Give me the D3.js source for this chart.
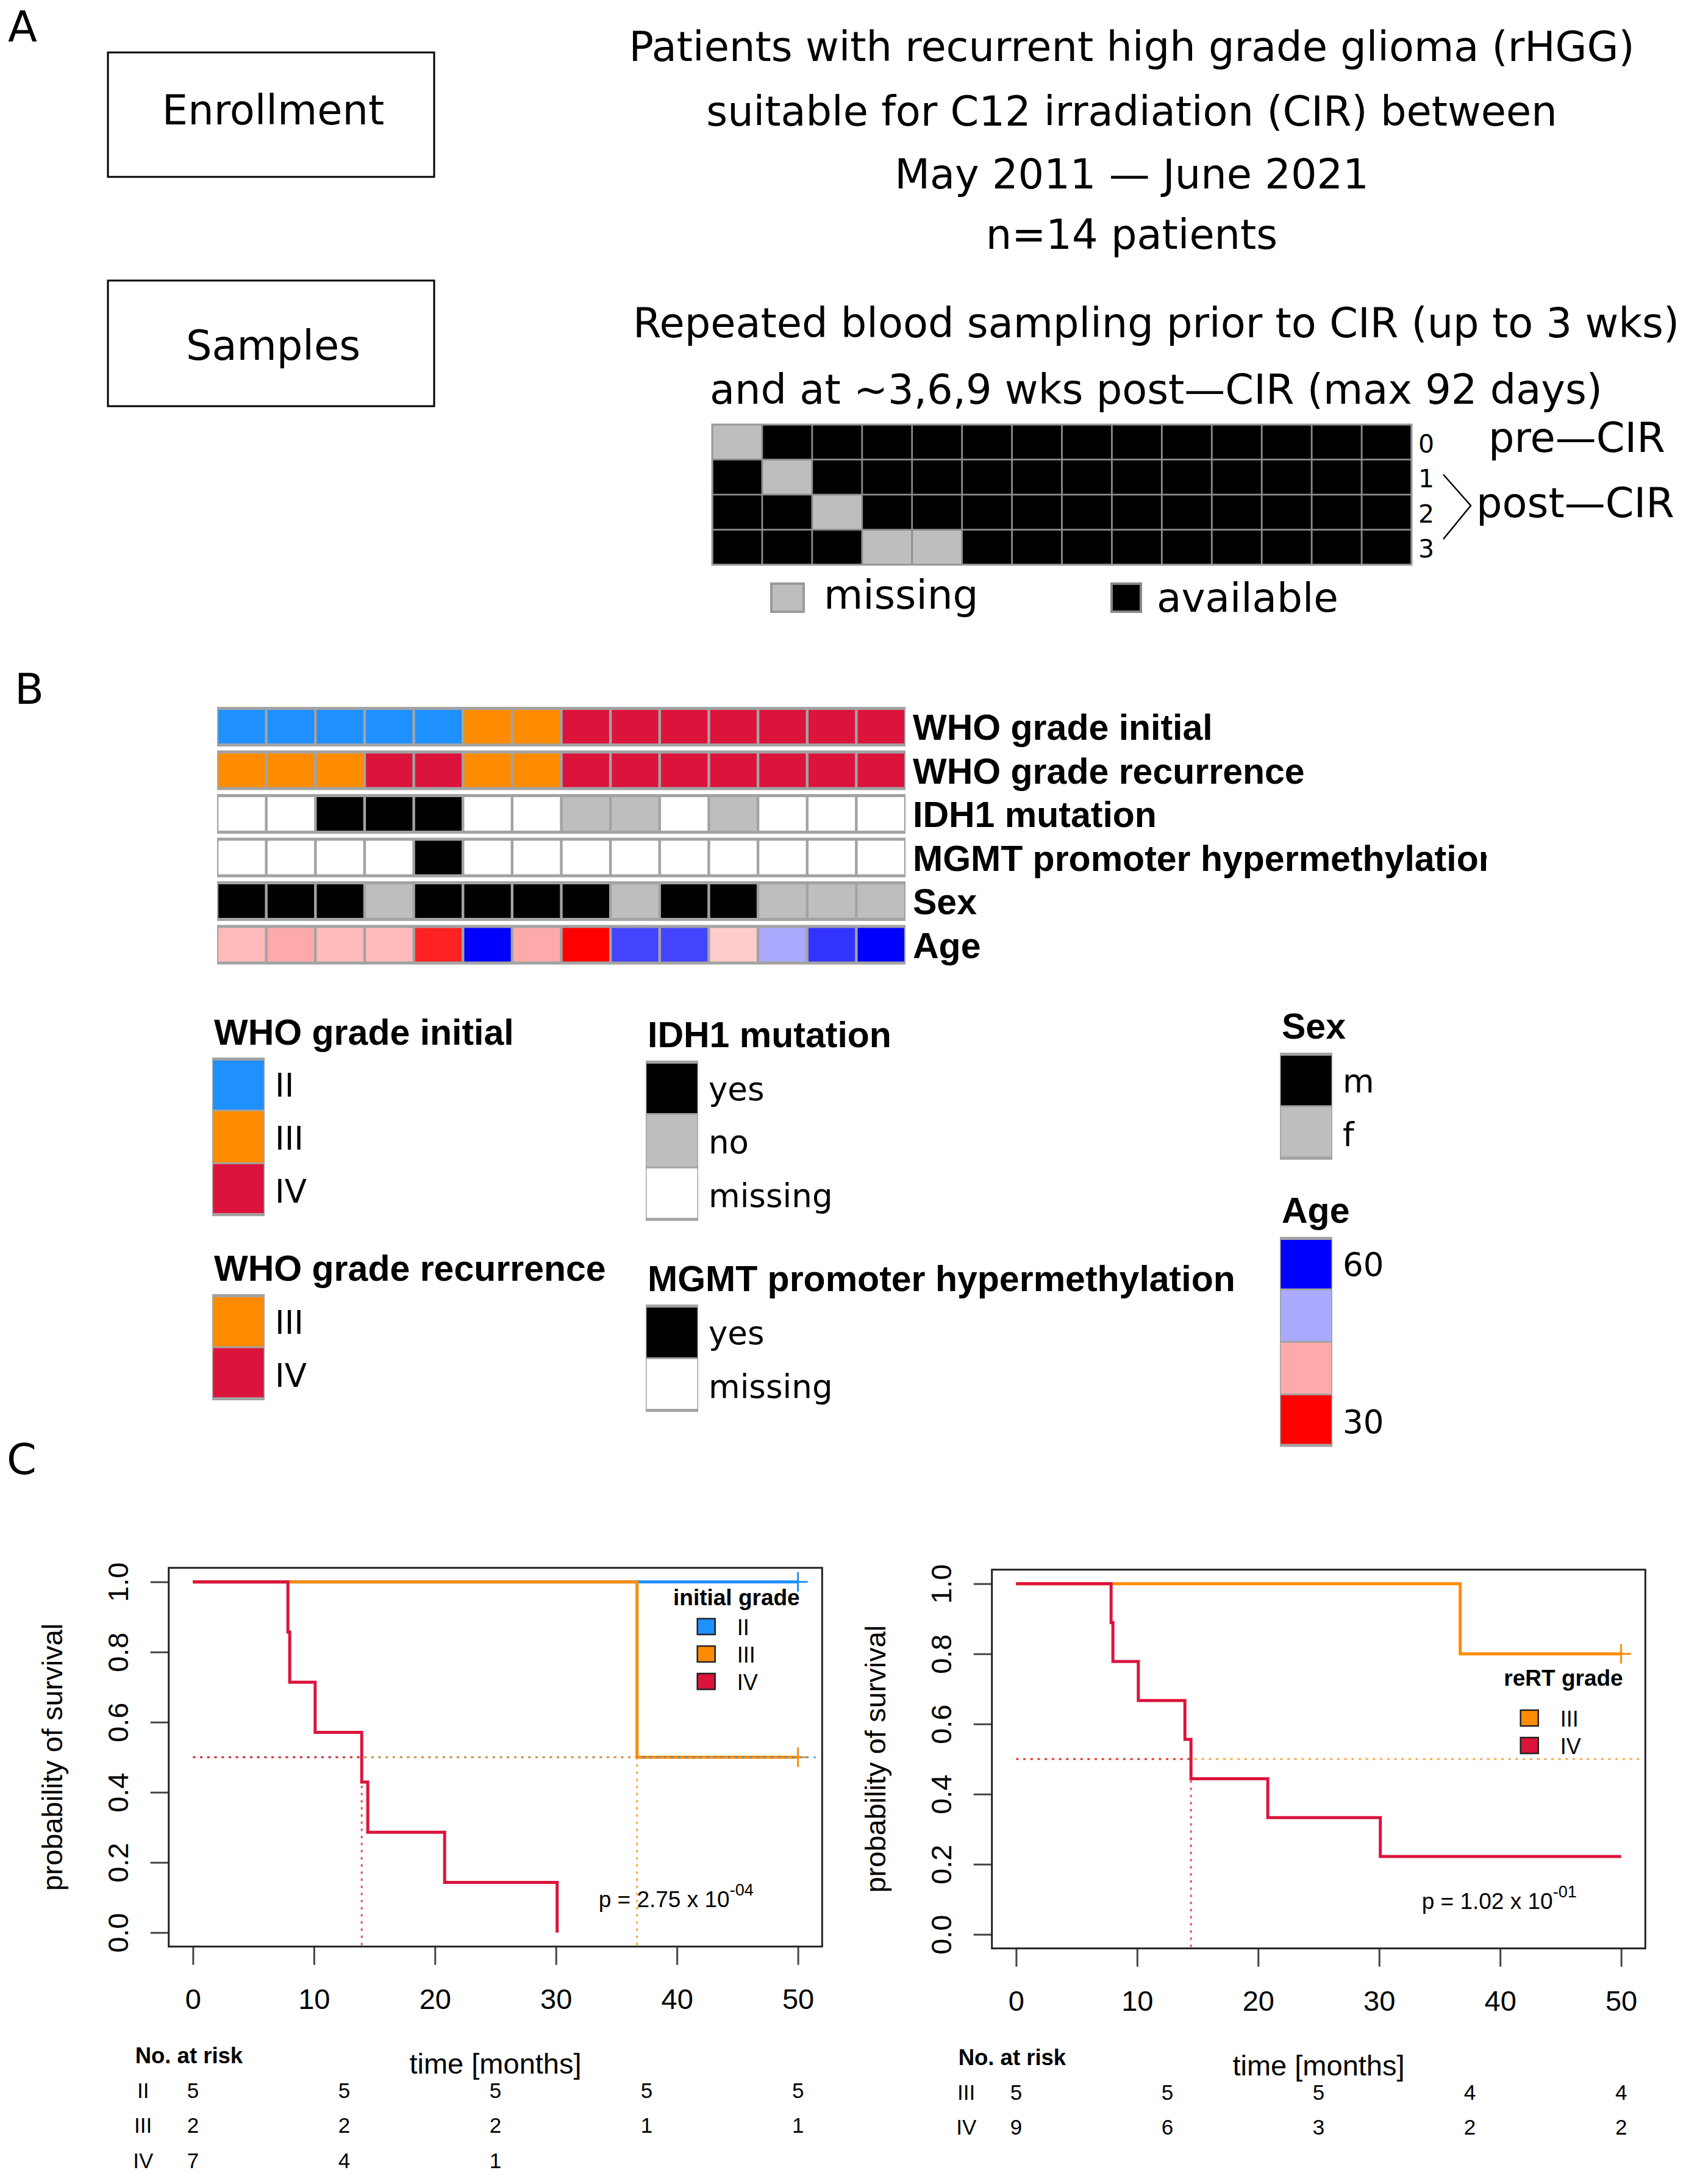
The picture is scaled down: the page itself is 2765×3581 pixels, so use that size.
<!DOCTYPE html>
<html>
<head>
<meta charset="utf-8">
<script src="https://cdn.jsdelivr.net/npm/d3@7"></script>
<style>
  body { margin: 0; background: #fff; }
</style>
</head>
<body>
<script>
// ---------- data ----------
// panel A
var introLines = ["Patients with recurrent high grade glioma (rHGG)",
                  "suitable for C12 irradiation (CIR) between",
                  "May 2011 \u2014 June 2021",
                  "n=14 patients"];
var sampleLines = ["Repeated blood sampling prior to CIR (up to 3 wks)",
                   "and at ~3,6,9 wks post\u2014CIR (max 92 days)"];
var timepoints = ["0", "1", "2", "3"];
// 1 = available, 0 = missing (one row per timepoint, one column per patient)
var samplesT0 = [0,1,1,1,1,1,1,1,1,1,1,1,1,1];
var samplesT1 = [1,0,1,1,1,1,1,1,1,1,1,1,1,1];
var samplesT2 = [1,1,0,1,1,1,1,1,1,1,1,1,1,1];
var samplesT3 = [1,1,1,0,0,1,1,1,1,1,1,1,1,1];

// panel B
var whoInitial    = ["II","II","II","II","II","III","III","IV","IV","IV","IV","IV","IV","IV"];
var whoRecurrence = ["III","III","III","IV","IV","III","III","IV","IV","IV","IV","IV","IV","IV"];
var idh1 = ["missing","missing","yes","yes","yes","missing","missing","no","no","missing","no","missing","missing","missing"];
var mgmt = ["missing","missing","missing","missing","yes","missing","missing","missing","missing","missing","missing","missing","missing","missing"];
var sex  = ["m","m","m","f","m","m","m","m","f","m","m","f","f","f"];
var age  = [41,40,41,41,32,60,40,30,56,56,42,50,57,60];
var ageLegend = [60, 50, 40, 30];

// panel C
var timeTicks = [0,10,20,30,40,50];
var survTicks = [0,0.2,0.4,0.6,0.8,1.0];
var riskTimes = [0,12.5,25,37.5,50];

var initIITimes  = [0,50];
var initIISurv   = [1,1];
var initIIITimes = [0,36.7,50];
var initIIISurv  = [1,0.5,0.5];
var initIVTimes  = [0,7.85,8.0,10.1,13.95,14.45,20.8,30.1];
var initIVSurv   = [1,0.857,0.714,0.571,0.429,0.286,0.143,0];
var initRiskII   = [5,5,5,5,5];
var initRiskIII  = [2,2,2,1,1];
var initRiskIV   = [7,4,1];

var reIIITimes = [0,36.7,50];
var reIIISurv  = [1,0.8,0.8];
var reIVTimes  = [0,7.85,8.0,10.1,13.95,14.45,20.8,30.1,50];
var reIVSurv   = [1,0.889,0.778,0.667,0.556,0.444,0.333,0.222,0.222];
var reRiskIII  = [5,5,5,4,4];
var reRiskIV   = [9,6,3,2,2];

// ---------- styles ----------
var DEJAVU = "'DejaVu Sans', sans-serif";
var HELV = "'Liberation Sans', Arial, Helvetica, sans-serif";
var GRADE_COLORS = { "II": "#1E90FF", "III": "#FF8C00", "IV": "#DC143C" };
var YESNO_COLORS = { "yes": "#000000", "no": "#BEBEBE", "missing": "#FFFFFF" };
var SEX_COLORS = { "m": "#000000", "f": "#BEBEBE" };
var ageColor = d3.scaleLinear().domain([30,45,60]).range(["#FF0000","#FFFFFF","#0000FF"]);

var svg = d3.select("body").append("svg")
    .attr("width", 2765)
    .attr("height", 3581)
    .style("background", "#fff");

svg.append("rect").attr("width", 2765).attr("height", 3581).attr("fill", "#fff");

// panel letters
[["A", 13, 68], ["B", 24, 1154], ["C", 11, 2417]].forEach(function(p) {
    svg.append("text").attr("x", p[1]).attr("y", p[2])
        .style("font-family", DEJAVU).style("font-size", "70px")
        .text(p[0]);
});

// ---------- panel A ----------
var gA = svg.append("g");

[["Enrollment", 86, 204, 204], ["Samples", 460, 206, 590]].forEach(function(b) {
    gA.append("rect").attr("x", 177).attr("y", b[1])
        .attr("width", 535).attr("height", b[2])
        .attr("fill", "none").attr("stroke", "#000").attr("stroke-width", 3);
    gA.append("text").attr("x", 448).attr("y", b[3])
        .attr("text-anchor", "middle")
        .style("font-family", DEJAVU).style("font-size", "67px")
        .text(b[0]);
});

gA.selectAll(".intro").data(introLines).enter().append("text")
    .attr("class", "intro")
    .attr("x", 1856)
    .attr("y", function(d, i) { return [100, 206, 309, 408][i]; })
    .attr("text-anchor", "middle")
    .style("font-family", DEJAVU).style("font-size", "67px")
    .text(function(d) { return d; });

gA.selectAll(".samp").data(sampleLines).enter().append("text")
    .attr("class", "samp")
    .attr("x", 1896)
    .attr("y", function(d, i) { return [553, 662][i]; })
    .attr("text-anchor", "middle")
    .style("font-family", DEJAVU).style("font-size", "67px")
    .text(function(d) { return d; });

var sampleMatrix = [samplesT0, samplesT1, samplesT2, samplesT3];
var gx = d3.scaleBand().domain(d3.range(14)).range([1168, 2315]);
var gy = d3.scaleBand().domain(timepoints).range([696, 926]);

gA.append("rect").attr("x", 1168).attr("y", 696)
    .attr("width", 1147).attr("height", 230).attr("fill", "#8c8c8c");

var gridRow = gA.selectAll(".grow").data(sampleMatrix).enter().append("g")
    .attr("class", "grow");
gridRow.selectAll("rect")
    .data(function(d, i) { return d.map(function(v, j) { return { v: v, col: j, row: timepoints[i] }; }); })
    .enter().append("rect")
    .attr("x", function(d) { return gx(d.col) + 1.4; })
    .attr("y", function(d) { return gy(d.row) + 1.4; })
    .attr("width", gx.bandwidth() - 2.8)
    .attr("height", gy.bandwidth() - 2.8)
    .attr("fill", function(d) { return d.v ? "#000" : "#BEBEBE"; });
gA.append("rect").attr("x", 1168).attr("y", 696)
    .attr("width", 1147).attr("height", 230)
    .attr("fill", "none").attr("stroke", "#999").attr("stroke-width", 3);

gA.selectAll(".tp").data(timepoints).enter().append("text")
    .attr("class", "tp")
    .attr("x", 2339)
    .attr("y", function(d) { return gy(d) + gy.bandwidth() / 2 + 17; })
    .attr("text-anchor", "middle")
    .style("font-family", DEJAVU).style("font-size", "41px")
    .text(function(d) { return d; });

gA.append("path")
    .attr("d", "M2367,778 L2412,829 L2367,884")
    .attr("fill", "none").attr("stroke", "#000").attr("stroke-width", 2.5);
gA.append("text").attr("x", 2441).attr("y", 741)
    .style("font-family", DEJAVU).style("font-size", "67px").text("pre\u2014CIR");
gA.append("text").attr("x", 2421).attr("y", 848)
    .style("font-family", DEJAVU).style("font-size", "67px").text("post\u2014CIR");

// legend of panel A
gA.append("rect").attr("x", 1265).attr("y", 957).attr("width", 53).attr("height", 46)
    .attr("fill", "#BEBEBE").attr("stroke", "#999").attr("stroke-width", 4);
gA.append("text").attr("x", 1351).attr("y", 998)
    .style("font-family", DEJAVU).style("font-size", "66px").text("missing");
gA.append("rect").attr("x", 1823).attr("y", 957).attr("width", 48).attr("height", 46)
    .attr("fill", "#000").attr("stroke", "#888").attr("stroke-width", 4);
gA.append("text").attr("x", 1897).attr("y", 1003)
    .style("font-family", DEJAVU).style("font-size", "66px").text("available");

// ---------- panel B ----------
var gB = svg.append("g");
var hmRows = [
    { name: "WHO grade initial", values: whoInitial, color: function(v) { return GRADE_COLORS[v]; } },
    { name: "WHO grade recurrence", values: whoRecurrence, color: function(v) { return GRADE_COLORS[v]; } },
    { name: "IDH1 mutation", values: idh1, color: function(v) { return YESNO_COLORS[v]; } },
    { name: "MGMT promoter hypermethylation", values: mgmt, color: function(v) { return YESNO_COLORS[v]; } },
    { name: "Sex", values: sex, color: function(v) { return SEX_COLORS[v]; } },
    { name: "Age", values: age, color: function(v) { return ageColor(v); } }
];
var hx = d3.scaleBand().domain(d3.range(14)).range([356, 1485]);
var hy = d3.scaleBand().domain(hmRows.map(function(r) { return r.name; }))
    .range([1159, 1581.5]).paddingInner(6.5 / 71.5);

gB.append("clipPath").attr("id", "hmclip")
    .append("rect").attr("x", 0).attr("y", 1100).attr("width", 2438).attr("height", 520);

var hmRow = gB.selectAll(".hrow").data(hmRows).enter().append("g")
    .attr("class", "hrow");
hmRow.append("rect")
    .attr("x", 356).attr("y", function(d) { return hy(d.name); })
    .attr("width", 1129).attr("height", hy.bandwidth())
    .attr("fill", "#a3a3a3");
hmRow.selectAll(".cell")
    .data(function(r) { return r.values.map(function(v, j) { return { v: v, col: j, r: r }; }); })
    .enter().append("rect")
    .attr("class", "cell")
    .attr("x", function(d) { return hx(d.col) + 2.2; })
    .attr("y", function(d) { return hy(d.r.name) + 5; })
    .attr("width", hx.bandwidth() - 4.4)
    .attr("height", hy.bandwidth() - 10)
    .attr("fill", function(d) { return d.r.color(d.v); });
hmRow.append("text")
    .attr("x", 1497)
    .attr("y", function(d) { return hy(d.name) + 54; })
    .attr("clip-path", "url(#hmclip)")
    .style("font-family", HELV).style("font-size", "59px").style("font-weight", "bold")
    .text(function(d) { return d.name; });

function drawLegend(title, labels, colors, x, titleBase, top, h) {
    var g = gB.append("g");
    g.append("text").attr("x", x + 3).attr("y", titleBase)
        .style("font-family", HELV).style("font-size", "59px").style("font-weight", "bold")
        .text(title);
    g.append("rect").attr("x", x).attr("y", top)
        .attr("width", 86).attr("height", h * colors.length)
        .attr("fill", "#a3a3a3");
    g.selectAll(".sw").data(colors).enter().append("rect")
        .attr("x", x + 1.5)
        .attr("y", function(d, i) { return top + i * h + (i === 0 ? 5 : 1.5); })
        .attr("width", 83)
        .attr("height", function(d, i) {
            var t = i === 0 ? 5 : 1.5, b = i === colors.length - 1 ? 5 : 1.5;
            return h - t - b;
        })
        .attr("fill", function(d) { return d; });
    g.selectAll(".lab").data(labels).enter().append("text")
        .attr("x", x + 103)
        .attr("y", function(d, i) { return top + i * h + h / 2 + 21; })
        .style("font-family", DEJAVU).style("font-size", "53px")
        .text(function(d) { return d; });
}

drawLegend("WHO grade initial", ["II","III","IV"],
    ["II","III","IV"].map(function(k) { return GRADE_COLORS[k]; }), 348, 1713, 1734, 86.7);
drawLegend("WHO grade recurrence", ["III","IV"],
    ["III","IV"].map(function(k) { return GRADE_COLORS[k]; }), 348, 2100, 2122, 87);
drawLegend("IDH1 mutation", ["yes","no","missing"],
    ["yes","no","missing"].map(function(k) { return YESNO_COLORS[k]; }), 1059, 1717, 1739, 87.6);
drawLegend("MGMT promoter hypermethylation", ["yes","missing"],
    ["yes","missing"].map(function(k) { return YESNO_COLORS[k]; }), 1059, 2117, 2139, 88);
drawLegend("Sex", ["m","f"],
    ["m","f"].map(function(k) { return SEX_COLORS[k]; }), 2099, 1703, 1726, 87.8);
drawLegend("Age", ["60","","","30"],
    ageLegend.map(function(a) { return ageColor(a); }), 2099, 2005, 2028, 86.1);

// ---------- panel C ----------
function drawKM(cfg) {
    var g = svg.append("g");
    var left = cfg.left, top = cfg.top;
    var x = d3.scaleLinear().domain([-2, 52]).range([left, left + 1071.6]);
    var y = d3.scaleLinear().domain([-0.04, 1.04]).range([top + 621, top]);
    var bottom = top + 621, right = left + 1071.6;

    // axes
    var xAxis = g.append("g").attr("transform", "translate(0," + bottom + ")")
        .call(d3.axisBottom(x).tickValues(timeTicks).tickSize(30).tickPadding(39).tickFormat(d3.format("d")));
    var yAxis = g.append("g").attr("transform", "translate(" + left + ",0)")
        .call(d3.axisLeft(y).tickValues(survTicks).tickSize(30).tickFormat(d3.format(".1f")));
    [xAxis, yAxis].forEach(function(a) {
        a.select(".domain").remove();
        a.selectAll("line").attr("stroke", "#444").attr("stroke-width", 3);
        a.selectAll("text").style("font-family", HELV).style("font-size", "47px").attr("fill", "#000");
    });
    yAxis.selectAll("text")
        .attr("x", null).attr("dy", null)
        .attr("text-anchor", "middle")
        .attr("transform", "translate(-67,0) rotate(-90)");

    // curves
    var line = d3.line()
        .x(function(d) { return x(d[0]); })
        .y(function(d) { return y(d[1]); })
        .curve(d3.curveStepAfter);
    cfg.curves.forEach(function(c) {
        g.append("path")
            .attr("d", line(d3.zip(c.times, c.surv)))
            .attr("fill", "none").attr("stroke", c.color).attr("stroke-width", 5);
        if (c.censor !== null) {
            var cx = x(c.censor), cy = y(c.surv[c.surv.length - 1]);
            g.append("path")
                .attr("d", "M" + (cx - 16) + "," + cy + "H" + (cx + 16) + "M" + cx + "," + (cy - 16) + "V" + (cy + 16))
                .attr("stroke", c.color).attr("stroke-width", 3);
        }
    });
    // median lines
    cfg.curves.forEach(function(c) {
        var xe = c.median !== null ? x(c.median) : right - 4;
        g.append("line")
            .attr("x1", x(0)).attr("x2", xe).attr("y1", y(0.5)).attr("y2", y(0.5))
            .attr("stroke", c.color).attr("stroke-width", 3).attr("stroke-dasharray", "4 7.7")
            .attr("opacity", 0.75);
        if (c.median !== null) {
            g.append("line")
                .attr("x1", xe).attr("x2", xe).attr("y1", y(0.5)).attr("y2", bottom)
                .attr("stroke", c.color).attr("stroke-width", 3).attr("stroke-dasharray", "4 7.7")
                .attr("opacity", 0.75);
        }
    });

    // box
    g.append("rect").attr("x", left).attr("y", top)
        .attr("width", 1071.6).attr("height", 621)
        .attr("fill", "none").attr("stroke", "#222").attr("stroke-width", 3);

    // axis titles
    g.append("text").attr("x", (left + right) / 2).attr("y", top + 829)
        .attr("text-anchor", "middle")
        .style("font-family", HELV).style("font-size", "47px").text("time [months]");
    g.append("text")
        .attr("transform", "translate(" + (left - 174.7) + "," + (top + 310.5) + ") rotate(-90)")
        .attr("text-anchor", "middle")
        .style("font-family", HELV).style("font-size", "47px").text("probability of survival");

    // legend
    g.append("text").attr("x", left + 1035).attr("y", cfg.legTitleY)
        .attr("text-anchor", "end")
        .style("font-family", HELV).style("font-size", "37px").style("font-weight", "bold")
        .text(cfg.legTitle);
    cfg.curves.forEach(function(c, i) {
        var sy = cfg.legTop + i * 45;
        g.append("rect").attr("x", left + 867).attr("y", sy)
            .attr("width", 29).attr("height", 26)
            .attr("fill", c.color).attr("stroke", "#222").attr("stroke-width", 2.5);
        g.append("text").attr("x", left + 932).attr("y", sy + 27)
            .style("font-family", HELV).style("font-size", "36px").text(c.name);
    });

    // p value
    var pt = g.append("text").attr("x", left + 705).attr("y", top + 556)
        .style("font-family", HELV).style("font-size", "37px");
    pt.append("tspan").text(cfg.pText);
    pt.append("tspan").attr("dy", -19).style("font-size", "27px").text(cfg.pExp);

    // number at risk
    g.append("text").attr("x", left - 55).attr("y", top + 812)
        .style("font-family", HELV).style("font-size", "36.5px").style("font-weight", "bold")
        .text("No. at risk");
    cfg.curves.forEach(function(c, i) {
        var by = top + 869 + i * 57.5;
        g.append("text").attr("x", left - 42).attr("y", by)
            .attr("text-anchor", "middle")
            .style("font-family", HELV).style("font-size", "35px").text(c.name);
        g.selectAll(".risk" + i).data(c.risk).enter().append("text")
            .attr("x", function(d, j) { return x(riskTimes[j]); })
            .attr("y", by)
            .attr("text-anchor", "middle")
            .style("font-family", HELV).style("font-size", "35px")
            .text(function(d) { return d; });
    });
}

drawKM({
    left: 276.7, top: 2570.7,
    legTitle: "initial grade", legTitleY: 2632, legTop: 2654,
    pText: "p = 2.75 x 10", pExp: "-04",
    curves: [
        { name: "II",  times: initIITimes,  surv: initIISurv,  color: GRADE_COLORS["II"],  censor: 50,   median: null,  risk: initRiskII },
        { name: "III", times: initIIITimes, surv: initIIISurv, color: GRADE_COLORS["III"], censor: 50,   median: 36.7,  risk: initRiskIII },
        { name: "IV",  times: initIVTimes,  surv: initIVSurv,  color: GRADE_COLORS["IV"],  censor: null, median: 13.95, risk: initRiskIV }
    ]
});

drawKM({
    left: 1626.7, top: 2573.7,
    legTitle: "reRT grade", legTitleY: 2764, legTop: 2804,
    pText: "p = 1.02 x 10", pExp: "-01",
    curves: [
        { name: "III", times: reIIITimes, surv: reIIISurv, color: GRADE_COLORS["III"], censor: 50,   median: null,  risk: reRiskIII },
        { name: "IV",  times: reIVTimes,  surv: reIVSurv,  color: GRADE_COLORS["IV"],  censor: null, median: 14.45, risk: reRiskIV }
    ]
});
</script>
</body>
</html>
